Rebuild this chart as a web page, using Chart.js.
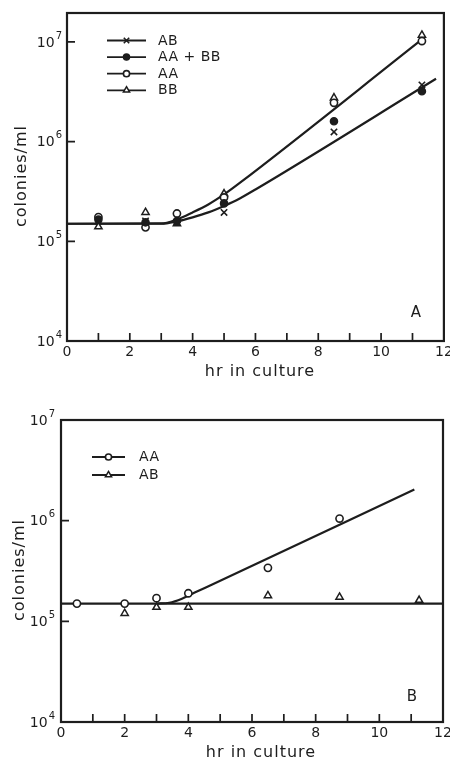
<!DOCTYPE html>
<html>
<head>
<meta charset="utf-8">
<script src="https://cdn.jsdelivr.net/npm/chart.js@4.4.1/dist/chart.umd.min.js"></script>
<style>
  html, body { margin: 0; padding: 0; background: #fff; }
  canvas { position: absolute; left: 0; }
  #panelA { top: 0; }
  #panelB { top: 380px; }
</style>
</head>
<body>
<canvas id="panelA" width="450" height="380"></canvas>
<canvas id="panelB" width="450" height="382"></canvas>
<script>
// ── Panel A: colonies/ml vs hours for the four cultures ──────────────────
const hoursA   = [1, 2.5, 3.5, 5, 8.5, 11.3];
const colAB    = [1.6e5, 1.6e5, 1.55e5, 1.95e5, 1.25e6, 3.7e6];
const colAABB  = [1.65e5, 1.55e5, 1.6e5, 2.4e5, 1.6e6, 3.2e6];
const colAA    = [1.75e5, 1.38e5, 1.9e5, 2.75e5, 2.45e6, 1.02e7];
const colBB    = [1.4e5, 1.95e5, 1.5e5, 3.0e5, 2.75e6, 1.17e7];

// fitted growth curves (upper: AA / BB, lower: AB / AA+BB)
const fitUpperHours = [0, 3.0, 3.5, 4.0, 4.5, 5.0, 5.5, 11.2];
const fitUpper      = [1.5e5, 1.51e5, 1.66e5, 1.95e5, 2.34e5, 2.95e5, 3.85e5, 1.0e7];
const fitLowerHours = [0, 3.0, 3.5, 4.0, 4.5, 5.0, 5.5, 6.0, 11.75];
const fitLower      = [1.5e5, 1.5e5, 1.585e5, 1.74e5, 1.95e5, 2.265e5, 2.69e5, 3.31e5, 4.27e6];

// ── Panel B ───────────────────────────────────────────────────────────────
const hoursB_AA = [0.5, 2, 3, 4, 6.5, 8.75];
const colB_AA   = [1.5e5, 1.5e5, 1.7e5, 1.9e5, 3.4e5, 1.05e6];
const hoursB_AB = [2, 3, 4, 6.5, 8.75, 11.25];
const colB_AB   = [1.2e5, 1.38e5, 1.38e5, 1.8e5, 1.74e5, 1.62e5];

const fitB_AAHours = [3.0, 3.4, 3.8, 4.2, 4.6, 11.1];
const fitB_AA      = [1.5e5, 1.53e5, 1.68e5, 1.93e5, 2.21e5, 2.04e6];
const fitB_ABHours = [0, 12];
const fitB_AB      = [1.5e5, 1.5e5];

// axis labels
const hourTicks   = [0, 2, 4, 6, 8, 10, 12];
const decadeExps  = [4, 5, 6, 7];

const INK  = '#1d1d1d';
const FONT = '"DejaVu Sans", "Liberation Sans", sans-serif';

const pts = (xs, ys) => xs.map((x, i) => ({ x, y: ys[i] }));

const MARK = {
  cross:  { pointStyle: 'crossRot', pointRadius: 4.5, pointBorderWidth: 1.6, pointBackgroundColor: INK },
  dot:    { pointStyle: 'circle',   pointRadius: 3.6, pointBorderWidth: 1.4, pointBackgroundColor: INK },
  ring:   { pointStyle: 'circle',   pointRadius: 3.6, pointBorderWidth: 1.6, pointBackgroundColor: '#fff' },
  tri:    { pointStyle: 'triangle', pointRadius: 4.2, pointBorderWidth: 1.5, pointBackgroundColor: '#fff' },
};

function markers(label, data, kind) {
  return Object.assign({
    label, data, showLine: false,
    borderColor: INK, pointBorderColor: INK, order: 1,
  }, MARK[kind]);
}

function fitLine(data) {
  return {
    data, showLine: true, borderColor: INK, borderWidth: 2.2,
    pointRadius: 0, cubicInterpolationMode: 'monotone', order: 5,
  };
}

// box, inward ticks, tick labels, titles and the hand-drawn legend
const framePlugin = {
  id: 'frame',
  afterDraw(chart, args, o) {
    const { ctx, chartArea: a, scales: { x, y } } = chart;
    ctx.save();
    ctx.strokeStyle = INK;
    ctx.fillStyle = INK;

    ctx.lineWidth = 2.2;
    ctx.strokeRect(a.left, a.top, a.right - a.left, a.bottom - a.top);

    ctx.lineWidth = 1.7;
    ctx.beginPath();
    for (let h = 1; h < 12; h++) {
      const px = x.getPixelForValue(h);
      ctx.moveTo(px, a.bottom);
      ctx.lineTo(px, a.bottom - 8);
    }
    decadeExps.forEach(e => {
      const py = y.getPixelForValue(Math.pow(10, e));
      if (py > a.top + 2 && py < a.bottom - 2) {
        ctx.moveTo(a.left, py);
        ctx.lineTo(a.left + 8, py);
      }
    });
    ctx.stroke();

    // x tick labels
    ctx.font = `14px ${FONT}`;
    ctx.textAlign = 'center';
    ctx.textBaseline = 'middle';
    hourTicks.forEach(h => ctx.fillText(String(h), x.getPixelForValue(h), a.bottom + 11));

    // decade labels: "10" with raised exponent
    decadeExps.forEach(e => {
      const py = y.getPixelForValue(Math.pow(10, e));
      const right = a.left - o.labelGap;
      ctx.font = `10px ${FONT}`;
      ctx.textAlign = 'right';
      ctx.fillText(String(e), right, py - 6);
      const ew = ctx.measureText(String(e)).width;
      ctx.font = `14px ${FONT}`;
      ctx.fillText('10', right - ew - 1, py + 1);
    });

    // axis titles
    ctx.font = `16px ${FONT}`;
    ctx.letterSpacing = '1px';
    ctx.textAlign = 'center';
    ctx.fillText('hr in culture', o.titleX, o.titleY);
    ctx.save();
    ctx.translate(o.yTitleX, o.yTitleY);
    ctx.rotate(-Math.PI / 2);
    ctx.fillText('colonies/ml', 0, 0);
    ctx.restore();
    ctx.letterSpacing = '0px';

    // panel letter
    ctx.font = `15px ${FONT}`;
    ctx.fillText(o.letter, o.letterX, o.letterY);

    // legend
    const lg = o.legend;
    lg.items.forEach((it, i) => {
      const ly = lg.y + i * lg.step;
      ctx.lineWidth = 1.8;
      ctx.beginPath();
      ctx.moveTo(lg.x1, ly);
      ctx.lineTo(lg.x2, ly);
      ctx.stroke();
      const m = MARK[it.kind];
      ctx.fillStyle = m.pointBackgroundColor;
      ctx.strokeStyle = INK;
      ctx.lineWidth = m.pointBorderWidth;
      Chart.helpers.drawPoint(ctx, {
        pointStyle: m.pointStyle, radius: m.pointRadius * 0.85,
        rotation: 0, borderWidth: m.pointBorderWidth,
      }, (lg.x1 + lg.x2) / 2, ly);
      ctx.fillStyle = INK;
      ctx.font = `14px ${FONT}`;
      ctx.letterSpacing = '0.5px';
      ctx.textAlign = 'left';
      ctx.fillText(it.label, lg.textX, ly + 0.5);
      ctx.letterSpacing = '0px';
    });
    ctx.restore();
  }
};

function baseOptions(padding, yMax, frame) {
  return {
    responsive: false,
    animation: false,
    events: [],
    layout: { padding },
    plugins: { legend: { display: false }, tooltip: { enabled: false }, frame },
    scales: {
      x: { type: 'linear', min: 0, max: 12, display: false },
      y: { type: 'logarithmic', min: 1e4, max: yMax, display: false },
    },
  };
}

new Chart(document.getElementById('panelA'), {
  type: 'scatter',
  data: {
    datasets: [
      markers('AB', pts(hoursA, colAB), 'cross'),
      markers('AA + BB', pts(hoursA, colAABB), 'dot'),
      markers('AA', pts(hoursA, colAA), 'ring'),
      markers('BB', pts(hoursA, colBB), 'tri'),
      fitLine(pts(fitUpperHours, fitUpper)),
      fitLine(pts(fitLowerHours, fitLower)),
    ],
  },
  options: baseOptions({ left: 67, top: 13, right: 2, bottom: 39 }, 1.95e7, {
    labelGap: 5,
    titleX: 260, titleY: 372,
    yTitleX: 22, yTitleY: 176,
    letter: 'A', letterX: 416, letterY: 313,
    legend: {
      x1: 107, x2: 146, textX: 158, y: 40.5, step: 16.6,
      items: [
        { label: 'AB', kind: 'cross' },
        { label: 'AA + BB', kind: 'dot' },
        { label: 'AA', kind: 'ring' },
        { label: 'BB', kind: 'tri' },
      ],
    },
  }),
  plugins: [framePlugin],
});

new Chart(document.getElementById('panelB'), {
  type: 'scatter',
  data: {
    datasets: [
      markers('AA', pts(hoursB_AA, colB_AA), 'ring'),
      markers('AB', pts(hoursB_AB, colB_AB), 'tri'),
      fitLine(pts(fitB_AAHours, fitB_AA)),
      fitLine(pts(fitB_ABHours, fitB_AB)),
    ],
  },
  options: baseOptions({ left: 61, top: 40, right: 7, bottom: 40 }, 1e7, {
    labelGap: 6,
    titleX: 261, titleY: 373,
    yTitleX: 20, yTitleY: 190,
    letter: 'B', letterX: 412, letterY: 317,
    legend: {
      x1: 92, x2: 125, textX: 139, y: 77, step: 18,
      items: [
        { label: 'AA', kind: 'ring' },
        { label: 'AB', kind: 'tri' },
      ],
    },
  }),
  plugins: [framePlugin],
});
</script>
</body>
</html>
